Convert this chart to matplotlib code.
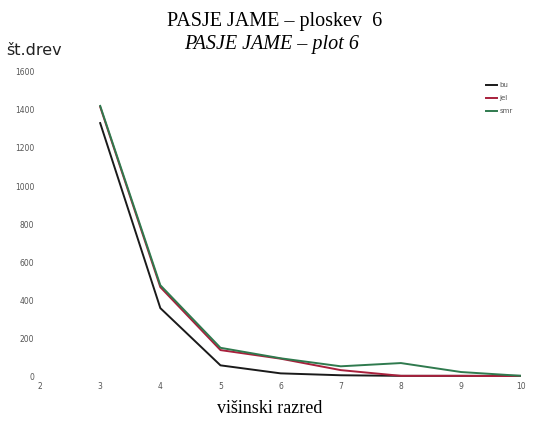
import matplotlib
matplotlib.use("Agg")
import matplotlib.pyplot as plt

# height classes and tree counts
razred = [3, 4, 5, 6, 7, 8, 9, 10]
bu = [1330, 360, 60, 18, 8, 5, 5, 5]
jel = [1415, 470, 140, 95, 35, 5, 5, 3]
smr = [1420, 480, 152, 97, 55, 72, 25, 5]

names = ["bu", "jel", "smr"]
colors = ["#1a1a1a", "#a8203c", "#2f7a4e"]

fig = plt.figure(figsize=(5.34, 4.21), dpi=100)
ax = fig.add_axes([0.075, 0.105, 0.901, 0.725])

for vals, name, col in zip([bu, jel, smr], names, colors):
	ax.plot(razred, vals, color=col, linewidth=1.4, label=name)

ax.set_xlim(2, 10)
ax.set_ylim(0, 1600)
ax.set_xticks(range(2, 11))
ax.set_yticks(range(0, 1601, 200))
ax.tick_params(length=0, labelsize=5.5, labelcolor="#555555", pad=4)
for s in ax.spines.values():
	s.set_visible(False)

leg = ax.legend(loc="upper right", bbox_to_anchor=(0.995, 0.985), fontsize=5,
	frameon=False, handlelength=1.6, labelspacing=1.0, handletextpad=0.3)
for t in leg.get_texts():
	t.set_color("#555555")

fig.text(0.515, 0.95, "PASJE JAME – ploskev  6", ha="center", va="center",
	family="Liberation Serif", fontsize=14.5)
fig.text(0.509, 0.895, "PASJE JAME – plot 6", ha="center", va="center",
	family="Liberation Serif", style="italic", fontsize=14.5)
fig.text(0.012, 0.88, "št.drev", ha="left", va="center", fontsize=11.5, color="#222222")
fig.text(0.505, 0.03, "višinski razred", ha="center", va="center",
	family="Liberation Serif", fontsize=13)

fig.savefig("out.png", dpi=100)
